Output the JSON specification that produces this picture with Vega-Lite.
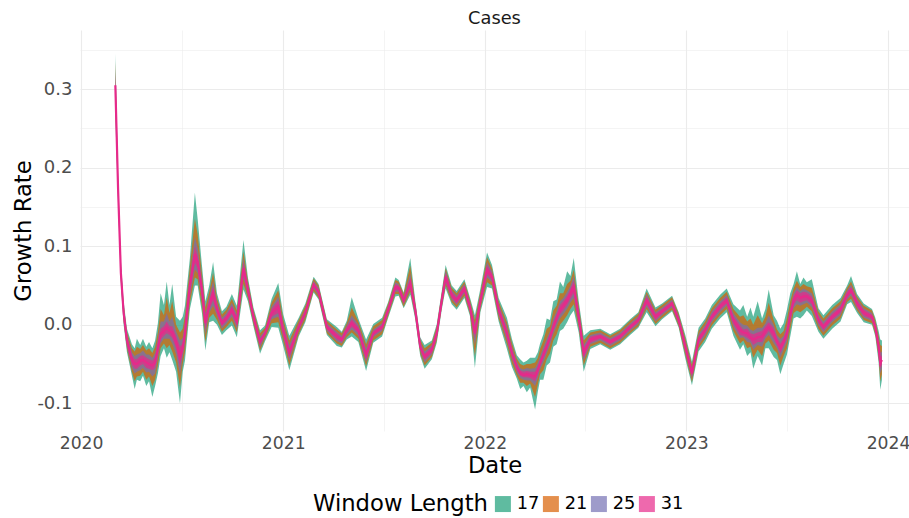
{
"$schema": "https://vega.github.io/schema/vega-lite/v6.json",
"width": 829, "height": 401,
"autosize": {"type": "none"},
"padding": {"left": 80, "top": 30, "right": 0, "bottom": 87},
"background": "white",
"title": {"text": "Cases", "fontSize": 17.8, "fontWeight": "normal", "color": "#1a1a1a", "anchor": "middle", "offset": 2},
"data": {"values": [
{"d":"2020-03-03","y":0.305,"l17":0.265,"u17":0.345,"l21":0.275,"u21":0.335,"l25":0.285,"u25":0.325,"l31":0.293,"u31":0.317},
{"d":"2020-03-08","y":0.172,"l17":0.152,"u17":0.192,"l21":0.157,"u21":0.187,"l25":0.162,"u25":0.182,"l31":0.166,"u31":0.178},
{"d":"2020-03-13","y":0.066,"l17":0.051,"u17":0.081,"l21":0.055,"u21":0.077,"l25":0.058,"u25":0.074,"l31":0.061,"u31":0.071},
{"d":"2020-03-18","y":0.015,"l17":0.000,"u17":0.030,"l21":0.004,"u21":0.026,"l25":0.007,"u25":0.023,"l31":0.010,"u31":0.020},
{"d":"2020-03-24","y":-0.020,"l17":-0.035,"u17":-0.005,"l21":-0.031,"u21":-0.009,"l25":-0.028,"u25":-0.012,"l31":-0.025,"u31":-0.015},
{"d":"2020-04-02","y":-0.045,"l17":-0.065,"u17":-0.025,"l21":-0.060,"u21":-0.030,"l25":-0.055,"u25":-0.035,"l31":-0.051,"u31":-0.039},
{"d":"2020-04-07","y":-0.050,"l17":-0.082,"u17":-0.030,"l21":-0.072,"u21":-0.034,"l25":-0.062,"u25":-0.040,"l31":-0.056,"u31":-0.044},
{"d":"2020-04-11","y":-0.050,"l17":-0.070,"u17":-0.018,"l21":-0.066,"u21":-0.028,"l25":-0.060,"u25":-0.038,"l31":-0.056,"u31":-0.044},
{"d":"2020-04-17","y":-0.046,"l17":-0.072,"u17":-0.026,"l21":-0.065,"u21":-0.031,"l25":-0.058,"u25":-0.036,"l31":-0.052,"u31":-0.040},
{"d":"2020-04-22","y":-0.045,"l17":-0.065,"u17":-0.018,"l21":-0.060,"u21":-0.026,"l25":-0.055,"u25":-0.033,"l31":-0.050,"u31":-0.039},
{"d":"2020-04-28","y":-0.048,"l17":-0.078,"u17":-0.028,"l21":-0.070,"u21":-0.033,"l25":-0.061,"u25":-0.038,"l31":-0.055,"u31":-0.042},
{"d":"2020-05-03","y":-0.050,"l17":-0.072,"u17":-0.022,"l21":-0.066,"u21":-0.030,"l25":-0.060,"u25":-0.038,"l31":-0.056,"u31":-0.044},
{"d":"2020-05-09","y":-0.052,"l17":-0.092,"u17":-0.030,"l21":-0.078,"u21":-0.036,"l25":-0.066,"u25":-0.042,"l31":-0.058,"u31":-0.046},
{"d":"2020-05-14","y":-0.048,"l17":-0.078,"u17":-0.020,"l21":-0.070,"u21":-0.028,"l25":-0.062,"u25":-0.036,"l31":-0.055,"u31":-0.041},
{"d":"2020-05-19","y":-0.030,"l17":-0.062,"u17":0.002,"l21":-0.052,"u21":-0.010,"l25":-0.043,"u25":-0.018,"l31":-0.037,"u31":-0.023},
{"d":"2020-05-24","y":-0.012,"l17":-0.040,"u17":0.040,"l21":-0.030,"u21":0.020,"l25":-0.024,"u25":0.004,"l31":-0.019,"u31":-0.005},
{"d":"2020-05-30","y":-0.008,"l17":-0.030,"u17":0.025,"l21":-0.024,"u21":0.012,"l25":-0.018,"u25":0.004,"l31":-0.014,"u31":-0.002},
{"d":"2020-06-04","y":-0.004,"l17":-0.042,"u17":0.055,"l21":-0.030,"u21":0.035,"l25":-0.018,"u25":0.015,"l31":-0.011,"u31":0.004},
{"d":"2020-06-09","y":-0.008,"l17":-0.035,"u17":0.025,"l21":-0.026,"u21":0.015,"l25":-0.018,"u25":0.004,"l31":-0.013,"u31":-0.002},
{"d":"2020-06-14","y":-0.010,"l17":-0.045,"u17":0.052,"l21":-0.034,"u21":0.030,"l25":-0.024,"u25":0.010,"l31":-0.017,"u31":-0.002},
{"d":"2020-06-21","y":-0.022,"l17":-0.060,"u17":0.010,"l21":-0.048,"u21":0.000,"l25":-0.038,"u25":-0.008,"l31":-0.030,"u31":-0.014},
{"d":"2020-06-28","y":-0.041,"l17":-0.100,"u17":0.005,"l21":-0.080,"u21":-0.010,"l25":-0.064,"u25":-0.020,"l31":-0.054,"u31":-0.028},
{"d":"2020-07-03","y":-0.030,"l17":-0.060,"u17":0.010,"l21":-0.050,"u21":-0.005,"l25":-0.041,"u25":-0.017,"l31":-0.035,"u31":-0.024},
{"d":"2020-07-07","y":-0.011,"l17":-0.046,"u17":0.024,"l21":-0.035,"u21":0.012,"l25":-0.025,"u25":0.004,"l31":-0.018,"u31":-0.004},
{"d":"2020-07-16","y":0.050,"l17":0.020,"u17":0.085,"l21":0.028,"u21":0.074,"l25":0.036,"u25":0.064,"l31":0.042,"u31":0.058},
{"d":"2020-07-25","y":0.090,"l17":0.050,"u17":0.168,"l21":0.060,"u21":0.135,"l25":0.070,"u25":0.112,"l31":0.079,"u31":0.100},
{"d":"2020-07-30","y":0.080,"l17":0.050,"u17":0.135,"l21":0.058,"u21":0.115,"l25":0.066,"u25":0.098,"l31":0.072,"u31":0.088},
{"d":"2020-08-07","y":0.044,"l17":0.014,"u17":0.074,"l21":0.022,"u21":0.064,"l25":0.030,"u25":0.057,"l31":0.036,"u31":0.051},
{"d":"2020-08-13","y":0.002,"l17":-0.033,"u17":0.030,"l21":-0.022,"u21":0.022,"l25":-0.012,"u25":0.014,"l31":-0.006,"u31":0.009},
{"d":"2020-08-20","y":0.025,"l17":0.003,"u17":0.050,"l21":0.009,"u21":0.042,"l25":0.015,"u25":0.035,"l31":0.019,"u31":0.031},
{"d":"2020-08-27","y":0.040,"l17":0.005,"u17":0.080,"l21":0.014,"u21":0.066,"l25":0.024,"u25":0.056,"l31":0.031,"u31":0.049},
{"d":"2020-09-03","y":0.020,"l17":0.000,"u17":0.040,"l21":0.006,"u21":0.034,"l25":0.011,"u25":0.029,"l31":0.015,"u31":0.025},
{"d":"2020-09-12","y":0.002,"l17":-0.013,"u17":0.017,"l21":-0.009,"u21":0.013,"l25":-0.005,"u25":0.009,"l31":-0.002,"u31":0.006},
{"d":"2020-09-20","y":0.008,"l17":-0.007,"u17":0.023,"l21":-0.003,"u21":0.019,"l25":0.001,"u25":0.015,"l31":0.004,"u31":0.012},
{"d":"2020-09-30","y":0.019,"l17":-0.001,"u17":0.039,"l21":0.005,"u21":0.033,"l25":0.010,"u25":0.028,"l31":0.014,"u31":0.024},
{"d":"2020-10-09","y":0.004,"l17":-0.016,"u17":0.024,"l21":-0.010,"u21":0.018,"l25":-0.005,"u25":0.013,"l31":-0.001,"u31":0.009},
{"d":"2020-10-21","y":0.072,"l17":0.045,"u17":0.108,"l21":0.052,"u21":0.093,"l25":0.059,"u25":0.085,"l31":0.064,"u31":0.080},
{"d":"2020-10-29","y":0.045,"l17":0.030,"u17":0.060,"l21":0.034,"u21":0.056,"l25":0.038,"u25":0.052,"l31":0.041,"u31":0.049},
{"d":"2020-11-08","y":0.010,"l17":-0.002,"u17":0.022,"l21":0.001,"u21":0.019,"l25":0.004,"u25":0.016,"l31":0.006,"u31":0.014},
{"d":"2020-11-20","y":-0.022,"l17":-0.037,"u17":-0.007,"l21":-0.033,"u21":-0.011,"l25":-0.029,"u25":-0.015,"l31":-0.026,"u31":-0.018},
{"d":"2020-11-29","y":-0.011,"l17":-0.021,"u17":-0.001,"l21":-0.018,"u21":-0.004,"l25":-0.015,"u25":-0.007,"l31":-0.013,"u31":-0.009},
{"d":"2020-12-11","y":0.015,"l17":-0.003,"u17":0.033,"l21":0.002,"u21":0.028,"l25":0.007,"u25":0.023,"l31":0.010,"u31":0.020},
{"d":"2020-12-23","y":0.023,"l17":-0.004,"u17":0.053,"l21":0.003,"u21":0.044,"l25":0.010,"u25":0.036,"l31":0.015,"u31":0.031},
{"d":"2021-01-01","y":-0.007,"l17":-0.027,"u17":0.013,"l21":-0.021,"u21":0.007,"l25":-0.016,"u25":0.002,"l31":-0.012,"u31":-0.002},
{"d":"2021-01-12","y":-0.036,"l17":-0.058,"u17":-0.014,"l21":-0.052,"u21":-0.020,"l25":-0.046,"u25":-0.026,"l31":-0.042,"u31":-0.030},
{"d":"2021-01-29","y":-0.003,"l17":-0.015,"u17":0.009,"l21":-0.012,"u21":0.006,"l25":-0.008,"u25":0.002,"l31":-0.006,"u31":0.000},
{"d":"2021-02-10","y":0.015,"l17":0.003,"u17":0.027,"l21":0.006,"u21":0.024,"l25":0.010,"u25":0.020,"l31":0.012,"u31":0.018},
{"d":"2021-02-25","y":0.051,"l17":0.041,"u17":0.061,"l21":0.043,"u21":0.059,"l25":0.046,"u25":0.056,"l31":0.048,"u31":0.054},
{"d":"2021-03-06","y":0.042,"l17":0.032,"u17":0.052,"l21":0.034,"u21":0.050,"l25":0.037,"u25":0.047,"l31":0.039,"u31":0.045},
{"d":"2021-03-21","y":-0.003,"l17":-0.013,"u17":0.007,"l21":-0.011,"u21":0.005,"l25":-0.008,"u25":0.002,"l31":-0.006,"u31":0.000},
{"d":"2021-04-08","y":-0.015,"l17":-0.027,"u17":-0.003,"l21":-0.024,"u21":-0.006,"l25":-0.021,"u25":-0.009,"l31":-0.019,"u31":-0.011},
{"d":"2021-04-17","y":-0.019,"l17":-0.029,"u17":-0.009,"l21":-0.027,"u21":-0.011,"l25":-0.024,"u25":-0.014,"l31":-0.022,"u31":-0.016},
{"d":"2021-04-26","y":-0.007,"l17":-0.019,"u17":0.005,"l21":-0.016,"u21":0.002,"l25":-0.013,"u25":-0.001,"l31":-0.011,"u31":-0.003},
{"d":"2021-05-05","y":0.002,"l17":-0.015,"u17":0.035,"l21":-0.010,"u21":0.022,"l25":-0.006,"u25":0.012,"l31":-0.003,"u31":0.007},
{"d":"2021-05-17","y":-0.007,"l17":-0.022,"u17":0.008,"l21":-0.018,"u21":0.004,"l25":-0.014,"u25":0.000,"l31":-0.011,"u31":-0.003},
{"d":"2021-05-31","y":-0.039,"l17":-0.059,"u17":-0.019,"l21":-0.053,"u21":-0.025,"l25":-0.048,"u25":-0.030,"l31":-0.044,"u31":-0.034},
{"d":"2021-06-13","y":-0.011,"l17":-0.023,"u17":0.001,"l21":-0.020,"u21":-0.002,"l25":-0.016,"u25":-0.006,"l31":-0.014,"u31":-0.008},
{"d":"2021-06-29","y":-0.003,"l17":-0.015,"u17":0.009,"l21":-0.012,"u21":0.006,"l25":-0.008,"u25":0.002,"l31":-0.006,"u31":0.000},
{"d":"2021-07-10","y":0.019,"l17":0.009,"u17":0.029,"l21":0.011,"u21":0.027,"l25":0.014,"u25":0.024,"l31":0.016,"u31":0.022},
{"d":"2021-07-23","y":0.048,"l17":0.036,"u17":0.060,"l21":0.039,"u21":0.057,"l25":0.042,"u25":0.054,"l31":0.044,"u31":0.052},
{"d":"2021-07-29","y":0.047,"l17":0.037,"u17":0.057,"l21":0.039,"u21":0.055,"l25":0.042,"u25":0.052,"l31":0.044,"u31":0.050},
{"d":"2021-08-07","y":0.031,"l17":0.021,"u17":0.041,"l21":0.023,"u21":0.039,"l25":0.026,"u25":0.036,"l31":0.028,"u31":0.034},
{"d":"2021-08-19","y":0.053,"l17":0.038,"u17":0.085,"l21":0.042,"u21":0.075,"l25":0.046,"u25":0.065,"l31":0.049,"u31":0.059},
{"d":"2021-08-28","y":0.019,"l17":0.007,"u17":0.031,"l21":0.010,"u21":0.028,"l25":0.013,"u25":0.025,"l31":0.015,"u31":0.023},
{"d":"2021-09-06","y":-0.028,"l17":-0.040,"u17":-0.016,"l21":-0.037,"u21":-0.019,"l25":-0.034,"u25":-0.022,"l31":-0.032,"u31":-0.024},
{"d":"2021-09-14","y":-0.041,"l17":-0.056,"u17":-0.026,"l21":-0.052,"u21":-0.030,"l25":-0.048,"u25":-0.034,"l31":-0.045,"u31":-0.037},
{"d":"2021-09-27","y":-0.032,"l17":-0.044,"u17":-0.020,"l21":-0.041,"u21":-0.023,"l25":-0.038,"u25":-0.026,"l31":-0.036,"u31":-0.028},
{"d":"2021-10-06","y":-0.011,"l17":-0.023,"u17":0.001,"l21":-0.020,"u21":-0.002,"l25":-0.017,"u25":-0.005,"l31":-0.015,"u31":-0.007},
{"d":"2021-10-15","y":0.031,"l17":0.019,"u17":0.043,"l21":0.022,"u21":0.040,"l25":0.025,"u25":0.037,"l31":0.027,"u31":0.035},
{"d":"2021-10-22","y":0.061,"l17":0.046,"u17":0.076,"l21":0.050,"u21":0.072,"l25":0.053,"u25":0.069,"l31":0.056,"u31":0.066},
{"d":"2021-11-02","y":0.038,"l17":0.026,"u17":0.050,"l21":0.029,"u21":0.047,"l25":0.032,"u25":0.044,"l31":0.034,"u31":0.042},
{"d":"2021-11-11","y":0.031,"l17":0.019,"u17":0.043,"l21":0.022,"u21":0.040,"l25":0.025,"u25":0.037,"l31":0.027,"u31":0.035},
{"d":"2021-11-25","y":0.046,"l17":0.034,"u17":0.058,"l21":0.037,"u21":0.055,"l25":0.040,"u25":0.052,"l31":0.042,"u31":0.050},
{"d":"2021-12-05","y":0.023,"l17":0.011,"u17":0.035,"l21":0.014,"u21":0.032,"l25":0.017,"u25":0.029,"l31":0.019,"u31":0.027},
{"d":"2021-12-14","y":-0.011,"l17":-0.055,"u17":0.012,"l21":-0.040,"u21":0.006,"l25":-0.026,"u25":0.000,"l31":-0.017,"u31":-0.005},
{"d":"2021-12-24","y":0.031,"l17":0.016,"u17":0.046,"l21":0.020,"u21":0.042,"l25":0.024,"u25":0.038,"l31":0.027,"u31":0.035},
{"d":"2022-01-05","y":0.070,"l17":0.048,"u17":0.092,"l21":0.054,"u21":0.086,"l25":0.060,"u25":0.080,"l31":0.064,"u31":0.076},
{"d":"2022-01-14","y":0.061,"l17":0.046,"u17":0.076,"l21":0.050,"u21":0.072,"l25":0.054,"u25":0.068,"l31":0.057,"u31":0.065},
{"d":"2022-01-26","y":0.019,"l17":0.004,"u17":0.034,"l21":0.008,"u21":0.030,"l25":0.012,"u25":0.026,"l31":0.015,"u31":0.023},
{"d":"2022-02-10","y":-0.011,"l17":-0.031,"u17":0.009,"l21":-0.025,"u21":0.003,"l25":-0.020,"u25":-0.002,"l31":-0.016,"u31":-0.006},
{"d":"2022-02-19","y":-0.036,"l17":-0.054,"u17":-0.018,"l21":-0.049,"u21":-0.023,"l25":-0.044,"u25":-0.028,"l31":-0.040,"u31":-0.032},
{"d":"2022-02-28","y":-0.054,"l17":-0.069,"u17":-0.039,"l21":-0.065,"u21":-0.043,"l25":-0.061,"u25":-0.047,"l31":-0.058,"u31":-0.050},
{"d":"2022-03-06","y":-0.062,"l17":-0.082,"u17":-0.044,"l21":-0.074,"u21":-0.050,"l25":-0.068,"u25":-0.055,"l31":-0.065,"u31":-0.058},
{"d":"2022-03-12","y":-0.064,"l17":-0.078,"u17":-0.048,"l21":-0.074,"u21":-0.052,"l25":-0.070,"u25":-0.057,"l31":-0.067,"u31":-0.060},
{"d":"2022-03-18","y":-0.063,"l17":-0.086,"u17":-0.046,"l21":-0.078,"u21":-0.050,"l25":-0.071,"u25":-0.055,"l31":-0.067,"u31":-0.059},
{"d":"2022-03-24","y":-0.064,"l17":-0.080,"u17":-0.042,"l21":-0.075,"u21":-0.050,"l25":-0.071,"u25":-0.056,"l31":-0.068,"u31":-0.060},
{"d":"2022-04-02","y":-0.066,"l17":-0.108,"u17":-0.042,"l21":-0.092,"u21":-0.048,"l25":-0.078,"u25":-0.055,"l31":-0.072,"u31":-0.060},
{"d":"2022-04-07","y":-0.058,"l17":-0.085,"u17":-0.035,"l21":-0.076,"u21":-0.042,"l25":-0.068,"u25":-0.048,"l31":-0.063,"u31":-0.053},
{"d":"2022-04-11","y":-0.049,"l17":-0.070,"u17":-0.024,"l21":-0.063,"u21":-0.031,"l25":-0.057,"u25":-0.040,"l31":-0.053,"u31":-0.045},
{"d":"2022-04-17","y":-0.038,"l17":-0.070,"u17":-0.012,"l21":-0.058,"u21":-0.020,"l25":-0.048,"u25":-0.028,"l31":-0.043,"u31":-0.033},
{"d":"2022-04-23","y":-0.028,"l17":-0.052,"u17":0.008,"l21":-0.044,"u21":-0.005,"l25":-0.037,"u25":-0.018,"l31":-0.033,"u31":-0.023},
{"d":"2022-04-29","y":-0.016,"l17":-0.048,"u17":0.006,"l21":-0.036,"u21":-0.002,"l25":-0.026,"u25":-0.008,"l31":-0.021,"u31":-0.011},
{"d":"2022-05-05","y":-0.003,"l17":-0.028,"u17":0.030,"l21":-0.020,"u21":0.018,"l25":-0.012,"u25":0.008,"l31":-0.008,"u31":0.003},
{"d":"2022-05-11","y":0.008,"l17":-0.025,"u17":0.032,"l21":-0.012,"u21":0.024,"l25":-0.002,"u25":0.017,"l31":0.003,"u31":0.013},
{"d":"2022-05-17","y":0.019,"l17":-0.008,"u17":0.055,"l21":0.000,"u21":0.040,"l25":0.008,"u25":0.030,"l31":0.013,"u31":0.025},
{"d":"2022-05-23","y":0.024,"l17":-0.005,"u17":0.048,"l21":0.005,"u21":0.040,"l25":0.013,"u25":0.034,"l31":0.018,"u31":0.030},
{"d":"2022-05-30","y":0.031,"l17":0.003,"u17":0.068,"l21":0.012,"u21":0.052,"l25":0.020,"u25":0.042,"l31":0.025,"u31":0.037},
{"d":"2022-06-05","y":0.040,"l17":0.012,"u17":0.062,"l21":0.020,"u21":0.056,"l25":0.028,"u25":0.050,"l31":0.033,"u31":0.046},
{"d":"2022-06-11","y":0.048,"l17":0.018,"u17":0.085,"l21":0.026,"u21":0.070,"l25":0.034,"u25":0.062,"l31":0.040,"u31":0.056},
{"d":"2022-06-20","y":0.010,"l17":-0.010,"u17":0.030,"l21":-0.004,"u21":0.024,"l25":0.001,"u25":0.019,"l31":0.005,"u31":0.015},
{"d":"2022-06-29","y":-0.036,"l17":-0.060,"u17":-0.014,"l21":-0.052,"u21":-0.020,"l25":-0.046,"u25":-0.026,"l31":-0.042,"u31":-0.030},
{"d":"2022-07-11","y":-0.019,"l17":-0.031,"u17":-0.007,"l21":-0.028,"u21":-0.010,"l25":-0.025,"u25":-0.013,"l31":-0.023,"u31":-0.015},
{"d":"2022-07-29","y":-0.015,"l17":-0.025,"u17":-0.005,"l21":-0.023,"u21":-0.007,"l25":-0.020,"u25":-0.010,"l31":-0.018,"u31":-0.012},
{"d":"2022-08-16","y":-0.022,"l17":-0.032,"u17":-0.012,"l21":-0.030,"u21":-0.014,"l25":-0.027,"u25":-0.017,"l31":-0.025,"u31":-0.019},
{"d":"2022-09-03","y":-0.015,"l17":-0.025,"u17":-0.005,"l21":-0.023,"u21":-0.007,"l25":-0.020,"u25":-0.010,"l31":-0.018,"u31":-0.012},
{"d":"2022-09-21","y":-0.003,"l17":-0.013,"u17":0.007,"l21":-0.011,"u21":0.005,"l25":-0.008,"u25":0.002,"l31":-0.006,"u31":0.000},
{"d":"2022-10-06","y":0.006,"l17":-0.004,"u17":0.016,"l21":-0.002,"u21":0.014,"l25":0.001,"u25":0.011,"l31":0.003,"u31":0.009},
{"d":"2022-10-21","y":0.031,"l17":0.016,"u17":0.046,"l21":0.020,"u21":0.042,"l25":0.023,"u25":0.039,"l31":0.026,"u31":0.036},
{"d":"2022-11-06","y":0.010,"l17":-0.002,"u17":0.022,"l21":0.001,"u21":0.019,"l25":0.004,"u25":0.016,"l31":0.006,"u31":0.014},
{"d":"2022-11-18","y":0.017,"l17":0.007,"u17":0.027,"l21":0.009,"u21":0.025,"l25":0.012,"u25":0.022,"l31":0.014,"u31":0.020},
{"d":"2022-12-06","y":0.027,"l17":0.017,"u17":0.037,"l21":0.019,"u21":0.035,"l25":0.022,"u25":0.032,"l31":0.024,"u31":0.030},
{"d":"2022-12-18","y":0.006,"l17":-0.004,"u17":0.016,"l21":-0.002,"u21":0.014,"l25":0.001,"u25":0.011,"l31":0.003,"u31":0.009},
{"d":"2022-12-30","y":-0.028,"l17":-0.043,"u17":-0.013,"l21":-0.039,"u21":-0.017,"l25":-0.035,"u25":-0.021,"l31":-0.032,"u31":-0.024},
{"d":"2023-01-11","y":-0.062,"l17":-0.077,"u17":-0.047,"l21":-0.073,"u21":-0.051,"l25":-0.069,"u25":-0.055,"l31":-0.066,"u31":-0.058},
{"d":"2023-01-23","y":-0.019,"l17":-0.034,"u17":-0.004,"l21":-0.030,"u21":-0.008,"l25":-0.026,"u25":-0.012,"l31":-0.023,"u31":-0.015},
{"d":"2023-02-04","y":-0.007,"l17":-0.022,"u17":0.008,"l21":-0.018,"u21":0.004,"l25":-0.014,"u25":0.000,"l31":-0.011,"u31":-0.003},
{"d":"2023-02-16","y":0.010,"l17":-0.005,"u17":0.025,"l21":-0.001,"u21":0.021,"l25":0.003,"u25":0.017,"l31":0.006,"u31":0.014},
{"d":"2023-03-03","y":0.023,"l17":0.008,"u17":0.038,"l21":0.012,"u21":0.034,"l25":0.016,"u25":0.030,"l31":0.019,"u31":0.027},
{"d":"2023-03-15","y":0.031,"l17":0.016,"u17":0.046,"l21":0.020,"u21":0.042,"l25":0.024,"u25":0.038,"l31":0.027,"u31":0.035},
{"d":"2023-03-27","y":0.006,"l17":-0.014,"u17":0.026,"l21":-0.008,"u21":0.020,"l25":-0.003,"u25":0.015,"l31":0.001,"u31":0.011},
{"d":"2023-04-08","y":-0.007,"l17":-0.032,"u17":0.018,"l21":-0.024,"u21":0.010,"l25":-0.017,"u25":0.003,"l31":-0.013,"u31":-0.001},
{"d":"2023-04-14","y":-0.010,"l17":-0.025,"u17":0.025,"l21":-0.020,"u21":0.012,"l25":-0.016,"u25":0.000,"l31":-0.014,"u31":-0.006},
{"d":"2023-04-21","y":-0.011,"l17":-0.040,"u17":0.010,"l21":-0.030,"u21":0.004,"l25":-0.022,"u25":-0.001,"l31":-0.017,"u31":-0.005},
{"d":"2023-04-27","y":-0.016,"l17":-0.035,"u17":0.022,"l21":-0.028,"u21":0.008,"l25":-0.023,"u25":-0.006,"l31":-0.020,"u31":-0.011},
{"d":"2023-05-02","y":-0.019,"l17":-0.056,"u17":0.010,"l21":-0.042,"u21":0.000,"l25":-0.032,"u25":-0.008,"l31":-0.026,"u31":-0.012},
{"d":"2023-05-10","y":-0.016,"l17":-0.040,"u17":0.030,"l21":-0.032,"u21":0.012,"l25":-0.026,"u25":-0.004,"l31":-0.022,"u31":-0.010},
{"d":"2023-05-18","y":-0.015,"l17":-0.052,"u17":0.008,"l21":-0.040,"u21":0.002,"l25":-0.028,"u25":-0.004,"l31":-0.022,"u31":-0.008},
{"d":"2023-05-24","y":-0.008,"l17":-0.030,"u17":0.020,"l21":-0.024,"u21":0.010,"l25":-0.018,"u25":0.002,"l31":-0.014,"u31":-0.002},
{"d":"2023-05-30","y":-0.003,"l17":-0.030,"u17":0.045,"l21":-0.020,"u21":0.028,"l25":-0.013,"u25":0.012,"l31":-0.008,"u31":0.003},
{"d":"2023-06-08","y":-0.011,"l17":-0.041,"u17":0.012,"l21":-0.032,"u21":0.006,"l25":-0.024,"u25":0.000,"l31":-0.018,"u31":-0.004},
{"d":"2023-06-14","y":-0.022,"l17":-0.045,"u17":0.005,"l21":-0.036,"u21":-0.006,"l25":-0.030,"u25":-0.013,"l31":-0.026,"u31":-0.017},
{"d":"2023-06-20","y":-0.030,"l17":-0.063,"u17":-0.005,"l21":-0.052,"u21":-0.012,"l25":-0.042,"u25":-0.018,"l31":-0.036,"u31":-0.024},
{"d":"2023-06-26","y":-0.022,"l17":-0.050,"u17":0.002,"l21":-0.040,"u21":-0.008,"l25":-0.032,"u25":-0.014,"l31":-0.027,"u31":-0.017},
{"d":"2023-07-02","y":-0.011,"l17":-0.038,"u17":0.019,"l21":-0.030,"u21":0.008,"l25":-0.022,"u25":0.000,"l31":-0.017,"u31":-0.005},
{"d":"2023-07-08","y":0.012,"l17":-0.015,"u17":0.040,"l21":-0.006,"u21":0.030,"l25":0.002,"u25":0.022,"l31":0.006,"u31":0.018},
{"d":"2023-07-14","y":0.031,"l17":0.008,"u17":0.052,"l21":0.015,"u21":0.046,"l25":0.021,"u25":0.040,"l31":0.025,"u31":0.037},
{"d":"2023-07-20","y":0.038,"l17":0.010,"u17":0.068,"l21":0.018,"u21":0.056,"l25":0.026,"u25":0.048,"l31":0.031,"u31":0.044},
{"d":"2023-07-26","y":0.034,"l17":0.008,"u17":0.052,"l21":0.016,"u21":0.048,"l25":0.024,"u25":0.043,"l31":0.028,"u31":0.040},
{"d":"2023-08-01","y":0.036,"l17":0.012,"u17":0.060,"l21":0.019,"u21":0.052,"l25":0.026,"u25":0.046,"l31":0.030,"u31":0.042},
{"d":"2023-08-07","y":0.036,"l17":0.018,"u17":0.054,"l21":0.023,"u21":0.049,"l25":0.028,"u25":0.044,"l31":0.031,"u31":0.041},
{"d":"2023-08-16","y":0.031,"l17":0.011,"u17":0.058,"l21":0.017,"u21":0.047,"l25":0.022,"u25":0.040,"l31":0.026,"u31":0.036},
{"d":"2023-08-28","y":0.006,"l17":-0.009,"u17":0.021,"l21":-0.005,"u21":0.017,"l25":-0.001,"u25":0.013,"l31":0.002,"u31":0.010},
{"d":"2023-09-06","y":-0.003,"l17":-0.018,"u17":0.012,"l21":-0.014,"u21":0.008,"l25":-0.010,"u25":0.004,"l31":-0.007,"u31":0.001},
{"d":"2023-09-22","y":0.010,"l17":-0.005,"u17":0.025,"l21":-0.001,"u21":0.021,"l25":0.003,"u25":0.017,"l31":0.006,"u31":0.014},
{"d":"2023-10-07","y":0.019,"l17":0.004,"u17":0.034,"l21":0.008,"u21":0.030,"l25":0.012,"u25":0.026,"l31":0.015,"u31":0.023},
{"d":"2023-10-19","y":0.038,"l17":0.026,"u17":0.050,"l21":0.029,"u21":0.047,"l25":0.032,"u25":0.044,"l31":0.034,"u31":0.042},
{"d":"2023-10-26","y":0.044,"l17":0.029,"u17":0.062,"l21":0.033,"u21":0.055,"l25":0.037,"u25":0.051,"l31":0.040,"u31":0.048},
{"d":"2023-11-06","y":0.027,"l17":0.015,"u17":0.039,"l21":0.018,"u21":0.036,"l25":0.021,"u25":0.033,"l31":0.023,"u31":0.031},
{"d":"2023-11-18","y":0.015,"l17":0.003,"u17":0.027,"l21":0.006,"u21":0.024,"l25":0.009,"u25":0.021,"l31":0.011,"u31":0.019},
{"d":"2023-12-03","y":0.010,"l17":0.000,"u17":0.020,"l21":0.002,"u21":0.018,"l25":0.005,"u25":0.015,"l31":0.007,"u31":0.013},
{"d":"2023-12-09","y":-0.003,"l17":-0.015,"u17":0.009,"l21":-0.012,"u21":0.006,"l25":-0.008,"u25":0.002,"l31":-0.006,"u31":0.000},
{"d":"2023-12-15","y":-0.028,"l17":-0.048,"u17":-0.008,"l21":-0.042,"u21":-0.014,"l25":-0.037,"u25":-0.019,"l31":-0.033,"u31":-0.023},
{"d":"2023-12-18","y":-0.049,"l17":-0.083,"u17":-0.019,"l21":-0.072,"u21":-0.026,"l25":-0.062,"u25":-0.036,"l31":-0.056,"u31":-0.042},
{"d":"2023-12-21","y":-0.045,"l17":-0.070,"u17":-0.020,"l21":-0.063,"u21":-0.027,"l25":-0.056,"u25":-0.034,"l31":-0.051,"u31":-0.039}
]},
"encoding": {
  "x": {"field": "d", "type": "temporal", "title": "Date",
    "scale": {"type": "utc", "nice": false, "domain": [{"year": 2019, "month": 12, "date": 30, "utc": true}, {"year": 2024, "month": 2, "date": 8, "utc": true}]},
    "axis": {
      "values": [{"year":2020,"month":1,"date":1,"utc":true},{"year":2020,"month":7,"date":2,"utc":true},{"year":2021,"month":1,"date":1,"utc":true},{"year":2021,"month":7,"date":2,"utc":true},{"year":2022,"month":1,"date":1,"utc":true},{"year":2022,"month":7,"date":2,"utc":true},{"year":2023,"month":1,"date":1,"utc":true},{"year":2023,"month":7,"date":2,"utc":true},{"year":2024,"month":1,"date":1,"utc":true}],
      "labelExpr": "utcmonth(datum.value) == 0 ? utcFormat(datum.value, '%Y') : ''",
      "gridWidth": {"condition": {"test": "utcmonth(datum.value) == 0", "value": 1.1}, "value": 0.55},
      "labelOverlap": false, "labelFlush": false, "labelPadding": 3, "titlePadding": 3, "labelFontSize": 17.2
    }
  }
},
"layer": [
  {"mark": {"type": "area", "opacity": 0.7}, "encoding": {
    "y": {"field": "l17", "type": "quantitative", "title": "Growth Rate",
      "scale": {"domain": [-0.1354, 0.3754], "nice": false, "zero": false},
      "axis": {"values": [-0.1, -0.05, 0, 0.05, 0.1, 0.15, 0.2, 0.25, 0.3, 0.35],
        "labelExpr": "round(datum.value*20) % 2 == 0 ? (datum.value < 0 ? '-' : '') + format(abs(datum.value), '.1f') : ''",
        "gridWidth": {"condition": {"test": "round(datum.value*20) % 2 == 0", "value": 1.1}, "value": 0.55},
        "labelPadding": 8, "titlePadding": 1, "labelFontSize": 18}},
    "y2": {"field": "u17"},
    "color": {"datum": "17", "type": "nominal", "title": "Window Length",
      "scale": {"domain": ["17", "21", "25", "31"], "range": ["#1b9e77", "#d95f02", "#7570b3", "#e7298a"]},
      "legend": {"orient": "none", "legendX": 233, "legendY": 465, "direction": "horizontal", "titleOrient": "left"}}
  }},
  {"mark": {"type": "area", "opacity": 0.7}, "encoding": {
    "y": {"field": "l21", "type": "quantitative", "title": "Growth Rate"}, "y2": {"field": "u21"}, "color": {"datum": "21", "type": "nominal"}}},
  {"mark": {"type": "area", "opacity": 0.7}, "encoding": {
    "y": {"field": "l25", "type": "quantitative", "title": "Growth Rate"}, "y2": {"field": "u25"}, "color": {"datum": "25", "type": "nominal"}}},
  {"mark": {"type": "area", "opacity": 0.7}, "encoding": {
    "y": {"field": "l31", "type": "quantitative", "title": "Growth Rate"}, "y2": {"field": "u31"}, "color": {"datum": "31", "type": "nominal"}}},
  {"mark": {"type": "line", "strokeWidth": 2.2}, "encoding": {
    "y": {"field": "y", "type": "quantitative", "title": "Growth Rate"}, "color": {"datum": "31", "type": "nominal"}}}
],
"config": {
  "font": "DejaVu Sans",
  "view": {"stroke": null},
  "axis": {"domain": false, "ticks": false, "tickSize": 0, "gridColor": "#ebebeb", "labelColor": "#4d4d4d", "labelFontSize": 17.6, "titleFontSize": 22.7, "titleFontWeight": "normal", "titleColor": "#000000"},
  "legend": {"symbolType": "square", "symbolSize": 256, "symbolStrokeWidth": 0, "symbolOpacity": 0.7, "labelFontSize": 17.8, "titleFontSize": 22.7, "titleFontWeight": "normal", "labelColor": "#000000", "titleColor": "#000000", "columnPadding": 2, "labelOffset": 5, "titlePadding": 6}
}
}
